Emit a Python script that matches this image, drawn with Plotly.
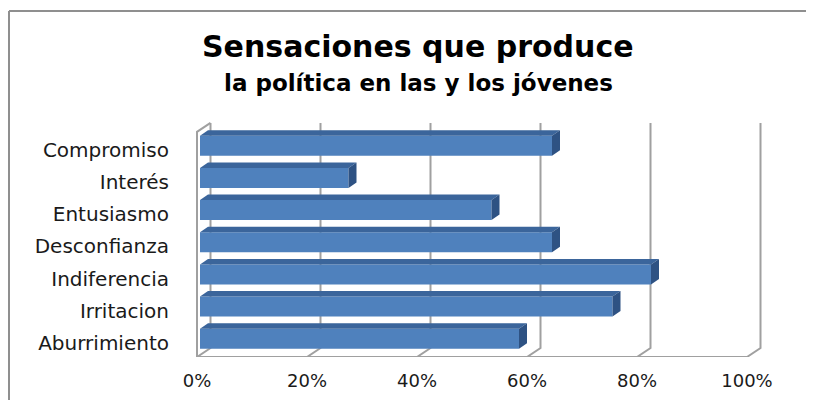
import plotly.graph_objects as go

# ---- data ----
categories = ["Aburrimiento", "Irritacion", "Indiferencia", "Desconfianza",
              "Entusiasmo", "Interés", "Compromiso"]
values = [58, 75, 82, 64, 53, 27, 64]
tick_vals = [0, 20, 40, 60, 80, 100]
tick_text = ["0%", "20%", "40%", "60%", "80%", "100%"]
title_main = "Sensaciones que produce"
title_sub = "la política en las y los jóvenes"

# ---- layout geometry (page px targets, compensating 8px page offset) ----
OFF = 8
W, H = 814 - OFF, 400 - OFF
ML = 180 - OFF
MT = 110 - OFF
PLOT_BOTTOM = 357 - OFF
MB = H - PLOT_BOTTOM
MR = 30
PX_PER_X = 5.5
PX_PER_Y = 32.16
plot_w = W - ML - MR
plot_h = H - MT - MB
x0 = -(197 - OFF - ML) / PX_PER_X
x1 = x0 + plot_w / PX_PER_X
y0 = -0.5
y1 = y0 + plot_h / PX_PER_Y


def paper_x(page_px):
    return (page_px - OFF - ML) / plot_w


def paper_y(page_py):
    return (PLOT_BOTTOM - (page_py - OFF)) / plot_h


DX = 13.5 / PX_PER_X    # wall depth offset
DY = 9 / PX_PER_Y
BX0 = 3 / PX_PER_X      # bar front plane
BY0 = 2.2 / PX_PER_Y
BDX = 8 / PX_PER_X      # bar depth
BDY = 5.5 / PX_PER_Y
BW = 20 / PX_PER_Y      # bar thickness

pos = list(range(len(categories)))
ytop = len(categories) - 0.5

grid_col = "#a0a0a0"
shapes = []
for t in tick_vals:
    shapes.append(dict(type="path", layer="below",
                       path=f"M {t},{y0} L {t+DX},{y0+DY} L {t+DX},{ytop+DY}",
                       line=dict(color=grid_col, width=2), xref="x", yref="y"))
shapes.append(dict(type="path", layer="below",
                   path=f"M {0},{y0} L {tick_vals[-1]},{y0}",
                   line=dict(color=grid_col, width=2), xref="x", yref="y"))
shapes.append(dict(type="path", layer="below",
                   path=f"M {0},{y0} L {0},{ytop} L {DX},{ytop+DY}",
                   line=dict(color=grid_col, width=2), xref="x", yref="y"))

# outer chart border (left and top)
bx = paper_x(9)
by = paper_y(11)
shapes.append(dict(type="line", xref="paper", yref="paper", x0=bx, x1=2,
                   y0=by, y1=by, line=dict(color="#8f8f8f", width=2)))
shapes.append(dict(type="line", xref="paper", yref="paper", x0=bx, x1=bx,
                   y0=-1, y1=by, line=dict(color="#8f8f8f", width=2)))

fig = go.Figure()

fig.add_trace(go.Bar(
    orientation="h", y=[p + BY0 for p in pos], x=values, base=BX0, width=BW,
    marker=dict(color="#4f81bd", line=dict(width=0)), hoverinfo="skip",
    showlegend=False))

top_x, top_y, side_x, side_y = [], [], [], []
for p, v in zip(pos, values):
    yc = p + BY0
    yt, yb = yc + BW / 2, yc - BW / 2
    xe = BX0 + v
    top_x += [BX0, xe, xe + BDX, BX0 + BDX, BX0, None]
    top_y += [yt, yt, yt + BDY, yt + BDY, yt, None]
    side_x += [xe, xe, xe + BDX, xe + BDX, xe, None]
    side_y += [yb, yt, yt + BDY, yb + BDY, yb, None]

fig.add_trace(go.Scatter(x=top_x, y=top_y, mode="lines", fill="toself",
                         fillcolor="#3b659b", line=dict(width=0),
                         hoverinfo="skip", showlegend=False))
fig.add_trace(go.Scatter(x=side_x, y=side_y, mode="lines", fill="toself",
                         fillcolor="#2e5283", line=dict(width=0),
                         hoverinfo="skip", showlegend=False))

tx = paper_x(418)
fig.add_annotation(text=f"<b>{title_main}</b>", xref="paper", yref="paper",
                   x=tx, y=paper_y(47), xanchor="center", yanchor="middle",
                   showarrow=False, font=dict(family="DejaVu Sans", size=30, color="#000"))
fig.add_annotation(text=f"<b>{title_sub}</b>", xref="paper", yref="paper",
                   x=tx, y=paper_y(83), xanchor="center", yanchor="middle",
                   showarrow=False, font=dict(family="DejaVu Sans", size=23, color="#000"))

fig.update_layout(
    width=W, height=H,
    margin=dict(l=ML, r=MR, t=MT, b=MB, pad=0, autoexpand=False),
    paper_bgcolor="white", plot_bgcolor="white",
    shapes=shapes, showlegend=False, barmode="overlay",
    font=dict(family="DejaVu Sans", color="#1a1a1a"),
)
fig.update_xaxes(range=[x0, x1], tickvals=tick_vals, ticktext=tick_text,
                 showgrid=False, zeroline=False, showline=False, automargin=False,
                 ticks="outside", ticklen=7, tickcolor="rgba(0,0,0,0)",
                 tickfont=dict(size=18, family="DejaVu Sans", color="#1a1a1a"))
fig.update_yaxes(range=[y0, y1], tickvals=[p - 0.06 for p in pos],
                 ticktext=categories, showgrid=False, zeroline=False, showline=False,
                 automargin=False,
                 ticks="outside", ticklen=6, tickcolor="rgba(0,0,0,0)",
                 tickfont=dict(size=20, family="DejaVu Sans", color="#1a1a1a"))

fig.write_html("out.html")
